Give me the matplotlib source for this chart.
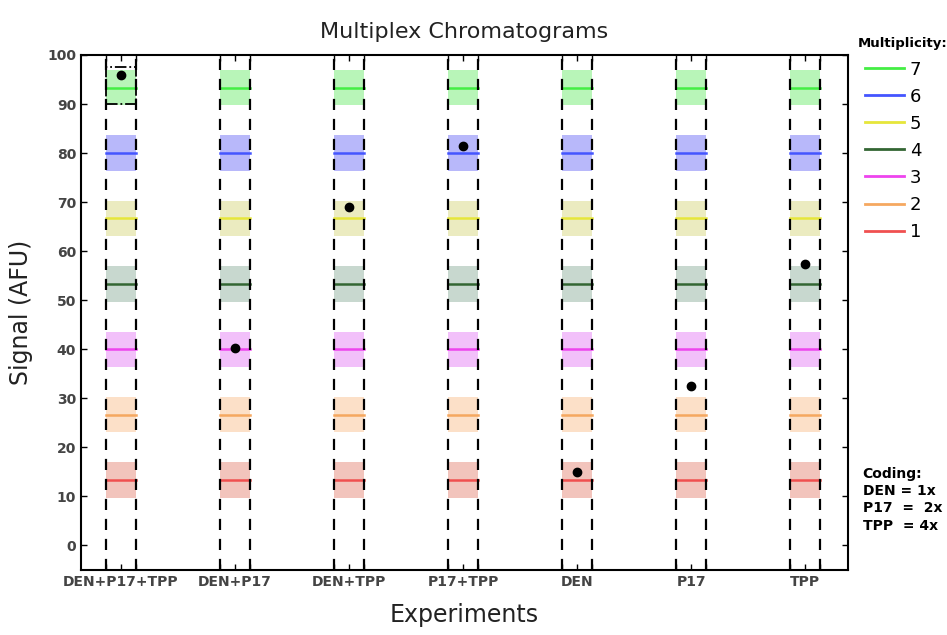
import matplotlib
matplotlib.use("Agg")
import matplotlib.pyplot as plt
from matplotlib.patches import Rectangle
from matplotlib.lines import Line2D

experiments = ["DEN+P17+TPP", "DEN+P17", "DEN+TPP", "P17+TPP", "DEN", "P17", "TPP"]
multiplicities = [1, 2, 3, 4, 5, 6, 7]
band_centers = [13.33, 26.67, 40.0, 53.33, 66.67, 80.0, 93.33]
band_half = 3.6
line_colors = ["#f05050", "#f5a860", "#ee44ee", "#336633", "#e6e63a", "#4455ff", "#44ee44"]
band_colors = ["#f2c4bc", "#fce0c8", "#f2c0fa", "#c8d8cf", "#ebebc0", "#b8b8fa", "#b8f5b8"]
observed = [96.0, 40.3, 69.0, 81.5, 15.0, 32.5, 57.3]
highlight_mult = 7

fig = plt.figure(figsize=(9.47, 6.35), dpi=100)
ax = fig.add_axes([0.0855, 0.1024, 0.81, 0.811])

hw = 0.13
xs = list(range(1, len(experiments) + 1))
for x in xs:
    for c, bc, lc in zip(band_centers, band_colors, line_colors):
        ax.add_patch(Rectangle((x - hw, c - band_half), 2 * hw, 2 * band_half,
                               facecolor=bc, edgecolor="none", zorder=1))
        ax.plot([x - hw, x + hw], [c, c], color=lc, lw=1.8, zorder=2)
    ax.axvline(x - hw, color="black", lw=1.6, ls=(0, (5, 4)), zorder=3)
    ax.axvline(x + hw, color="black", lw=1.6, ls=(0, (5, 4)), zorder=3)

ax.plot(xs, observed, "o", color="black", ms=6, zorder=5)

# highlight box on the first experiment
hc = band_centers[highlight_mult - 1]
ax.add_patch(Rectangle((xs[0] - hw, hc - 3.3), 2 * hw, 7.6, facecolor="none",
                       edgecolor="black", lw=1.3, ls="-.", zorder=4))

ax.set_xlim(0.65, 7.375)
ax.set_ylim(-5, 100)
ax.set_yticks(range(0, 101, 10))
ax.set_xticks(xs)
ax.set_xticklabels(experiments)
minor = []
for x in xs:
    minor += [x - hw, x + hw]
ax.set_xticks(minor, minor=True)
ax.tick_params(axis="both", which="both", direction="in", top=True, right=True,
               length=4, width=1, colors="black", labelcolor="#444444", labelsize=10)
ax.tick_params(axis="y", which="minor", left=False, right=False)
for lab in ax.get_xticklabels() + ax.get_yticklabels():
    lab.set_fontweight("bold")
for s in ax.spines.values():
    s.set_linewidth(1.5)

ax.set_title("Multiplex Chromatograms", fontsize=16, color="#222222", pad=12)
ax.set_xlabel("Experiments", fontsize=17, color="#222222", labelpad=10)
ax.set_ylabel("Signal (AFU)", fontsize=17, color="#222222", labelpad=10)

fig.text(0.906, 0.932, "Multiplicity:", fontsize=9.5, fontweight="bold",
         va="center", ha="left")
handles = [Line2D([0], [0], color=lc, lw=2) for lc in line_colors[::-1]]
labels = [str(m) for m in multiplicities[::-1]]
leg = fig.legend(handles, labels, loc="upper left", bbox_to_anchor=(0.896, 0.93),
                 frameon=False, fontsize=13,
                 handlelength=2.2, handletextpad=0.3, labelspacing=0.5)

fig.text(0.911, 0.265, "Coding:\nDEN = 1x\nP17  =  2x\nTPP  = 4x", fontsize=10,
         fontweight="bold", va="top", ha="left", linespacing=1.3)

fig.savefig("out.png", dpi=100)
